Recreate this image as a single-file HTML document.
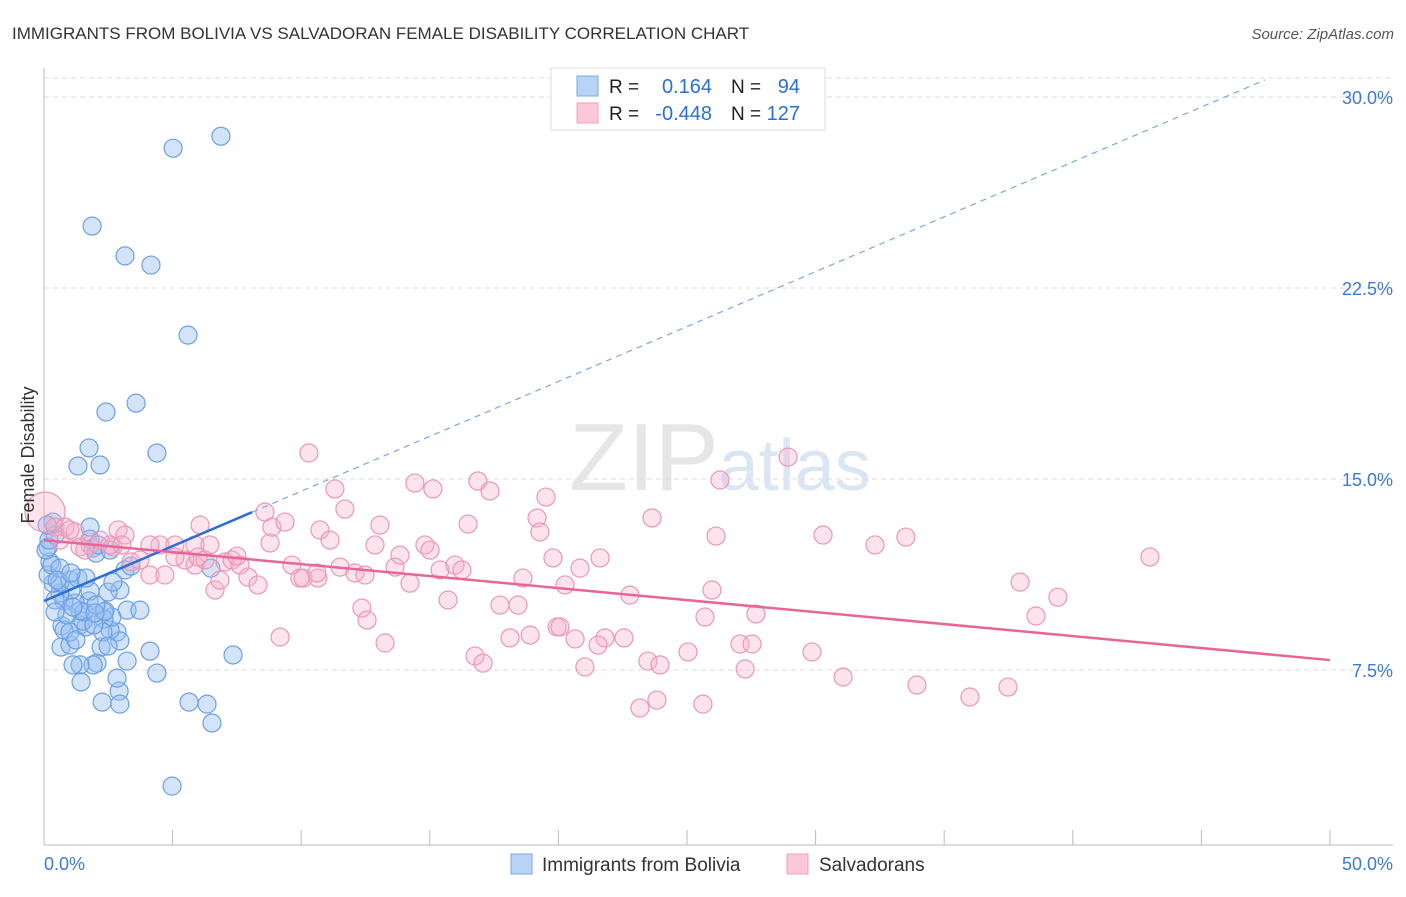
<!DOCTYPE html>
<html><head><meta charset="utf-8"><style>
body{margin:0;background:#fff;font-family:"Liberation Sans",sans-serif;}
svg text{font-family:"Liberation Sans",sans-serif;}
</style></head><body>
<svg id="chart" width="1406" height="892" xmlns="http://www.w3.org/2000/svg">
<text x="12" y="39" font-size="17" fill="#333">IMMIGRANTS FROM BOLIVIA VS SALVADORAN FEMALE DISABILITY CORRELATION CHART</text>
<text x="1394" y="39" font-size="15" fill="#555" font-style="italic" text-anchor="end">Source: ZipAtlas.com</text>
<text x="720" y="490" font-size="96" fill="#e6e6e6" text-anchor="middle" font-family="Liberation Serif">ZIP<tspan fill="#dbe6f5" font-family="Liberation Sans" font-size="72">atlas</tspan></text>
<g id="grid"></g>
<g id="axes"></g>
<g id="blue-pts"></g>
<g id="pink-pts"></g>
<g id="trends"></g>
<text transform="translate(34,455) rotate(-90)" font-size="18" fill="#333" text-anchor="middle">Female Disability</text>
<g>
<rect x="551" y="68" width="274" height="62" fill="#fff" stroke="#ddd"/>
<rect x="577" y="76" width="21" height="20" fill="#b9d3f5" stroke="#7aa8e6"/>
<rect x="577" y="103" width="21" height="20" fill="#fac8d8" stroke="#f0a0bc"/>
<text x="609" y="93" font-size="19" fill="#222">R =</text>
<text x="712" y="93" font-size="20" fill="#2b6fd6" text-anchor="end">0.164</text>
<text x="731" y="93" font-size="19" fill="#222">N =</text>
<text x="800" y="93" font-size="20" fill="#2b6fd6" text-anchor="end">94</text>
<text x="609" y="120" font-size="19" fill="#222">R =</text>
<text x="712" y="120" font-size="20" fill="#2b6fd6" text-anchor="end">-0.448</text>
<text x="731" y="120" font-size="19" fill="#222">N =</text>
<text x="800" y="120" font-size="20" fill="#2b6fd6" text-anchor="end">127</text>
</g>
<g>
<rect x="511" y="854" width="21" height="20" fill="#b9d3f5" stroke="#7aa8e6"/>
<text x="542" y="871" font-size="19" fill="#333">Immigrants from Bolivia</text>
<rect x="787" y="854" width="21" height="20" fill="#fac8d8" stroke="#f0a0bc"/>
<text x="819" y="871" font-size="19" fill="#333">Salvadorans</text>
</g>
</svg>
<script>
const blueX=[6.88,5.02,1.87,3.15,4.16,5.60,3.58,2.41,1.75,4.39,1.32,2.18,6.49,7.35,6.53,4.98,5.64,6.34,4.39,4.12,3.23,2.92,2.84,2.26,2.95,2.06,1.91,1.40,1.44,1.13,0.66,1.01,3.23,3.73,2.84,2.95,2.22,2.57,2.64,2.33,1.40,0.70,0.78,1.01,1.24,1.63,1.52,1.75,1.21,0.78,1.05,1.79,0.62,0.43,2.95,2.49,2.68,0.35,0.62,1.01,1.32,1.63,0.16,0.23,0.31,0.16,0.43,0.62,0.08,0.19,2.33,1.79,1.91,2.02,2.10,3.15,3.38,2.57,2.37,1.79,0.35,0.12,1.56,2.29,1.40,0.89,0.43,1.13,2.02,1.94,0.51,2.49,1.98,1.05];
const blueY=[28.46,27.99,24.93,23.76,23.40,20.65,17.98,17.63,16.22,16.02,15.51,15.55,11.50,8.09,5.42,2.94,6.24,6.16,7.38,8.24,7.85,6.67,7.18,6.24,6.16,7.77,7.70,7.70,7.03,7.70,8.40,8.48,9.85,9.85,8.99,8.64,8.40,9.07,9.58,9.78,9.27,9.23,9.07,8.99,8.68,9.19,9.42,10.21,10.13,10.21,10.64,10.60,10.52,10.25,10.64,10.56,10.95,10.91,10.95,11.03,11.11,11.11,11.23,11.74,11.62,12.33,12.80,11.50,12.21,12.60,9.50,12.64,12.29,12.09,12.41,11.43,11.58,12.21,9.82,13.11,13.31,13.19,9.78,8.99,9.82,9.66,9.78,9.97,10.05,9.27,11.03,8.44,9.74,11.31];
const pinkX=[0.04,0.43,0.82,1.21,1.79,1.40,2.18,2.68,2.88,3.15,2.57,3.03,3.38,4.51,5.09,6.07,5.87,5.48,6.26,6.45,6.65,6.84,7.04,7.31,7.62,7.93,7.50,8.32,8.59,8.79,8.86,9.37,9.64,9.95,9.18,10.07,10.65,10.30,10.61,10.73,11.12,11.31,11.70,11.51,12.09,12.36,12.48,12.56,12.87,13.06,13.26,13.65,13.84,14.23,14.42,14.81,15.01,15.12,15.40,15.71,15.98,16.25,16.49,16.76,16.87,17.07,17.34,17.73,18.12,18.43,18.62,18.90,19.17,19.28,19.52,19.79,19.95,20.06,20.26,20.65,20.84,21.03,21.62,21.81,21.54,22.55,22.78,23.17,23.64,23.48,23.95,23.83,25.04,25.62,25.70,25.97,26.13,26.28,27.06,27.26,27.53,27.68,28.93,29.86,30.29,31.07,32.31,33.51,33.94,36.00,37.48,37.95,38.57,39.42,43.00,0.62,1.01,1.59,3.73,4.12,4.70,5.09,5.87,5.99,4.12];
const pinkY=[13.70,13.11,13.11,12.92,12.41,12.33,12.60,12.33,13.00,12.80,12.41,12.41,11.74,12.41,12.41,13.19,11.62,11.82,11.82,12.41,10.64,11.03,11.74,11.82,11.62,11.15,11.97,10.84,13.70,12.49,13.11,13.31,11.62,11.11,8.79,11.11,11.11,16.02,11.31,13.00,12.60,14.61,13.82,11.54,11.31,9.93,11.23,9.46,12.41,13.19,8.56,11.54,12.01,10.91,14.84,12.41,12.21,14.61,11.43,10.25,11.62,11.43,13.23,8.05,14.92,7.77,14.53,10.05,8.76,10.05,11.11,8.87,13.47,12.92,14.29,11.90,9.19,9.19,10.84,8.72,11.50,7.62,11.90,8.76,8.48,8.76,10.44,6.01,13.47,7.85,7.70,6.32,8.21,6.16,9.58,10.64,12.76,14.96,8.52,7.54,8.52,9.70,15.86,8.21,12.80,7.22,12.41,12.72,6.91,6.44,6.83,10.95,9.62,10.36,11.94,12.60,13.00,12.21,11.82,11.23,11.23,11.94,12.41,11.94,12.41];
const yTicks=[7.5,15,22.5,30];
const yTickLabels=["7.5%","15.0%","22.5%","30.0%"];
const xTicks=[0,5,10,15,20,25,30,35,40,45,50];
const blueTrend=[10.21,0.431];   // intercept, slope
const blueTrendRange=[0,8.09,47.47];
const pinkTrend=[12.60,-0.0942];
const pinkTrendRange=[0,50];

const NS="http://www.w3.org/2000/svg";
const X=v=>44+v*25.72;
const Y=v=>861-v*25.4667;
function mk(tag,attrs,parent){const e=document.createElementNS(NS,tag);for(const k in attrs)e.setAttribute(k,attrs[k]);parent.appendChild(e);return e;}
const grid=document.getElementById('grid'),axes=document.getElementById('axes');
mk('line',{x1:44,x2:1393,y1:78,y2:78,stroke:'#ddd','stroke-dasharray':'5,4'},grid);
yTicks.forEach((t,i)=>{
  const l=mk('line',{x1:44,x2:1393,y1:Y(t),y2:Y(t),stroke:'#ddd','stroke-dasharray':'5,4'},grid);
  
  
  const tx=mk('text',{x:1393,y:Y(t)+7,'font-size':18,fill:'#3b7ad9','text-anchor':'end'},axes);
  tx.textContent=yTickLabels[i];
  
  
});
mk('line',{x1:44,x2:44,y1:68,y2:845,stroke:'#bbb'},axes);
mk('line',{x1:44,x2:1393,y1:845,y2:845,stroke:'#bbb'},axes);
xTicks.forEach(t=>{
  const l=mk('line',{x1:X(t),x2:X(t),y1:830,y2:845,stroke:'#bbb'},axes);
  
  
});
const xl=mk('text',{x:44,y:870,'font-size':18,fill:'#3b7ad9'},axes);xl.textContent='0.0%';


const xr=mk('text',{x:1393,y:870,'font-size':18,fill:'#3b7ad9','text-anchor':'end'},axes);xr.textContent='50.0%';



const bg=document.getElementById('blue-pts');
blueX.forEach((x,i)=>{
  const c=mk('circle',{cx:X(x),cy:Y(blueY[i]),r:9,fill:'rgba(150,190,240,0.42)',stroke:'#6c9fe2','stroke-width':1.2},bg);
  
  
});
const pg=document.getElementById('pink-pts');
pinkX.forEach((x,i)=>{
  const c=mk('circle',{cx:X(x),cy:Y(pinkY[i]),r:i===0?20:9,fill:'rgba(247,175,200,0.35)',stroke:'#eb97b6','stroke-width':1.2},pg);
  
  
});
const tg=document.getElementById('trends');
const bf=v=>blueTrend[0]+blueTrend[1]*v, pf=v=>pinkTrend[0]+pinkTrend[1]*v;
const b1=mk('line',{x1:X(blueTrendRange[0]),y1:Y(bf(blueTrendRange[0])),x2:X(blueTrendRange[1]),y2:Y(bf(blueTrendRange[1])),stroke:'#2b6fd6','stroke-width':2.5},tg);


const b2=mk('line',{x1:X(blueTrendRange[1]),y1:Y(bf(blueTrendRange[1])),x2:X(blueTrendRange[2]),y2:Y(bf(blueTrendRange[2])),stroke:'#7aa6e6','stroke-width':1.2,'stroke-dasharray':'6,5'},tg);


const p1=mk('line',{x1:X(pinkTrendRange[0]),y1:Y(pf(pinkTrendRange[0])),x2:X(pinkTrendRange[1]),y2:Y(pf(pinkTrendRange[1])),stroke:'#e8659a','stroke-width':2.5},tg);


</script>
</body></html>
